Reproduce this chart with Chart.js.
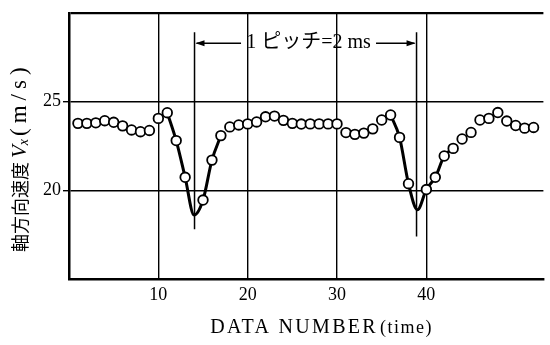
<!DOCTYPE html>
<html>
<head>
<meta charset="utf-8">
<script src="https://cdn.jsdelivr.net/npm/chart.js@4/dist/chart.umd.min.js"></script>
<style>
  html, body { margin: 0; padding: 0; background: #fff; }
</style>
</head>
<body>
<canvas id="velocityChart" width="550" height="345"></canvas>
<script>
// axial velocity Vx (m/s) for data number 1..52, no sample plotted at 14 and 39
const velocity = [
  23.77, 23.77, 23.8, 23.92, 23.83, 23.63, 23.4, 23.3, 23.37, 24.05,
  24.37, 22.8, 20.73, null, 19.45, 21.7, 23.08, 23.57, 23.68, 23.74,
  23.85, 24.14, 24.18, 23.94, 23.77, 23.73, 23.74, 23.74, 23.74, 23.74,
  23.25, 23.15, 23.22, 23.46, 23.96, 24.24, 22.98, 20.37, null, 20.04,
  20.73, 21.93, 22.36, 22.89, 23.26, 23.96, 24.05, 24.38, 23.9, 23.65,
  23.5, 23.54
];

// faired curves through the two dips
const dip1X = [11, 12, 13, 14, 15, 16, 17];
const dip1Y = [24.37, 22.8, 20.73, 18.6, 19.45, 21.7, 23.08];
const dip2X = [36, 37, 38, 39, 40, 41, 42, 43];
const dip2Y = [24.24, 22.98, 20.37, 18.9, 20.04, 20.73, 21.93, 22.36];

const xTicks = [10, 20, 30, 40];
const yTicks = [15, 20, 25, 30];
const yLabels = [20, 25];

// one pitch = 2 ms, marked between the two minima
const pitchMarks = [14.05, 38.9];
const pitchLabel = '1 ピッチ=2 ms';

const SERIF = "'Liberation Serif', 'DejaVu Serif', serif";
const JP = "'Noto Sans CJK JP', sans-serif";

function arrowHead(ctx, tipX, tipY, dir) {
  ctx.beginPath();
  ctx.moveTo(tipX, tipY);
  ctx.lineTo(tipX - dir * 9, tipY - 3);
  ctx.lineTo(tipX - dir * 9, tipY + 3);
  ctx.closePath();
  ctx.fill();
}

const annotate = {
  id: 'annotate',
  afterDraw(chart) {
    const { ctx, chartArea } = chart;
    const xs = chart.scales.x, ys = chart.scales.y;
    ctx.save();
    ctx.fillStyle = '#000';
    ctx.strokeStyle = '#000';

    // pitch marker lines
    const x1 = xs.getPixelForValue(pitchMarks[0]);
    const x2 = xs.getPixelForValue(pitchMarks[1]);
    const top = ys.getPixelForValue(28.9);
    ctx.lineWidth = 1.5;
    ctx.beginPath();
    ctx.moveTo(x1, top); ctx.lineTo(x1, ys.getPixelForValue(17.8));
    ctx.moveTo(x2, top); ctx.lineTo(x2, ys.getPixelForValue(17.4));
    ctx.stroke();

    // label with arrows on both sides
    const ay = ys.getPixelForValue(28.29);
    ctx.font = '20px ' + SERIF + ', ' + JP;
    ctx.textAlign = 'center';
    ctx.textBaseline = 'middle';
    const cx = (x1 + x2) / 2 + 3;
    const w = 129;
    ctx.fillText(pitchLabel, cx, ay, w);
    ctx.lineWidth = 1.5;
    ctx.beginPath();
    ctx.moveTo(x1 + 2, ay); ctx.lineTo(cx - w / 2 - 3, ay);
    ctx.moveTo(cx + w / 2 + 3, ay); ctx.lineTo(x2 - 2, ay);
    ctx.stroke();
    arrowHead(ctx, x1 + 1, ay, -1);
    arrowHead(ctx, x2 - 1, ay, 1);

    // x axis title
    ctx.textAlign = 'left';
    ctx.textBaseline = 'alphabetic';
    ctx.font = '20px ' + SERIF;
    ctx.letterSpacing = '2.3px';
    const t1 = 'DATA NUMBER';
    const t2 = '(time)';
    const w1 = ctx.measureText(t1).width;
    ctx.letterSpacing = '1.5px';
    ctx.font = '18px ' + SERIF;
    const w2 = ctx.measureText(t2).width;
    const tx = chartArea.left + (chartArea.right - chartArea.left) * 0.5325 - (w1 + w2 + 2) / 2;
    const ty = 333;
    ctx.letterSpacing = '2.3px';
    ctx.font = '20px ' + SERIF;
    ctx.fillText(t1, tx, ty);
    ctx.letterSpacing = '1.5px';
    ctx.font = '18px ' + SERIF;
    ctx.fillText(t2, tx + w1 + 2, ty);

    // y axis title, read bottom to top
    ctx.translate(20, 252);
    ctx.rotate(-Math.PI / 2);
    ctx.textBaseline = 'middle';
    ctx.letterSpacing = '0px';
    ctx.font = '18px ' + JP;
    ctx.fillText('軸方向速度', 0, 0);
    let p = ctx.measureText('軸方向速度').width + 4;
    ctx.font = 'italic 21px ' + SERIF;
    ctx.fillText('V', p, 0);
    p += ctx.measureText('V').width;
    ctx.font = 'italic 14px ' + SERIF;
    ctx.fillText('x', p, 4);
    p += ctx.measureText('x').width + 3;
    ctx.font = '23px ' + SERIF;
    ctx.letterSpacing = '5px';
    ctx.fillText('(m/s)', p, 0);
    ctx.restore();
  }
};

new Chart(document.getElementById('velocityChart'), {
  type: 'line',
  data: {
    datasets: [
      {
        data: velocity.map((v, i) => ({ x: i + 1, y: v })),
        showLine: false,
        pointRadius: 4.8,
        pointBorderWidth: 1.8,
        pointBackgroundColor: '#fff',
        pointBorderColor: '#000'
      },
      {
        data: dip1X.map((x, i) => ({ x: x, y: dip1Y[i] })),
        borderColor: '#000',
        borderWidth: 3,
        pointRadius: 0,
        cubicInterpolationMode: 'monotone'
      },
      {
        data: dip2X.map((x, i) => ({ x: x, y: dip2Y[i] })),
        borderColor: '#000',
        borderWidth: 3,
        pointRadius: 0,
        cubicInterpolationMode: 'monotone'
      }
    ]
  },
  options: {
    responsive: false,
    animation: false,
    devicePixelRatio: 1,
    layout: { padding: { top: 10, left: 0, right: 0, bottom: 0 } },
    plugins: {
      legend: { display: false },
      tooltip: { enabled: false }
    },
    scales: {
      x: {
        type: 'linear',
        min: 0,
        max: 53.1,
        afterBuildTicks: s => { s.ticks = xTicks.map(v => ({ value: v })); },
        afterFit: s => { s.height = 66; },
        grid: { color: '#000', lineWidth: 1.4, drawTicks: false },
        border: { color: '#000', width: 2.5 },
        ticks: {
          color: '#000',
          padding: 5,
          maxRotation: 0,
          font: { family: SERIF, size: 18 }
        }
      },
      y: {
        min: 15,
        max: 30,
        afterBuildTicks: s => { s.ticks = yTicks.map(v => ({ value: v })); },
        afterFit: s => { s.width = 69; },
        grid: {
          color: '#000',
          lineWidth: c => (c.tick && c.tick.value === 30 ? 2.2 : 1.4),
          tickLength: 6,
          tickColor: c => (c.tick && yLabels.includes(c.tick.value) ? '#000' : 'rgba(0,0,0,0)')
        },
        border: { color: '#000', width: 2.5 },
        ticks: {
          color: '#000',
          padding: 2,
          font: { family: SERIF, size: 18 },
          callback: v => (yLabels.includes(v) ? v : '')
        }
      }
    }
  },
  plugins: [annotate]
});
</script>
</body>
</html>
